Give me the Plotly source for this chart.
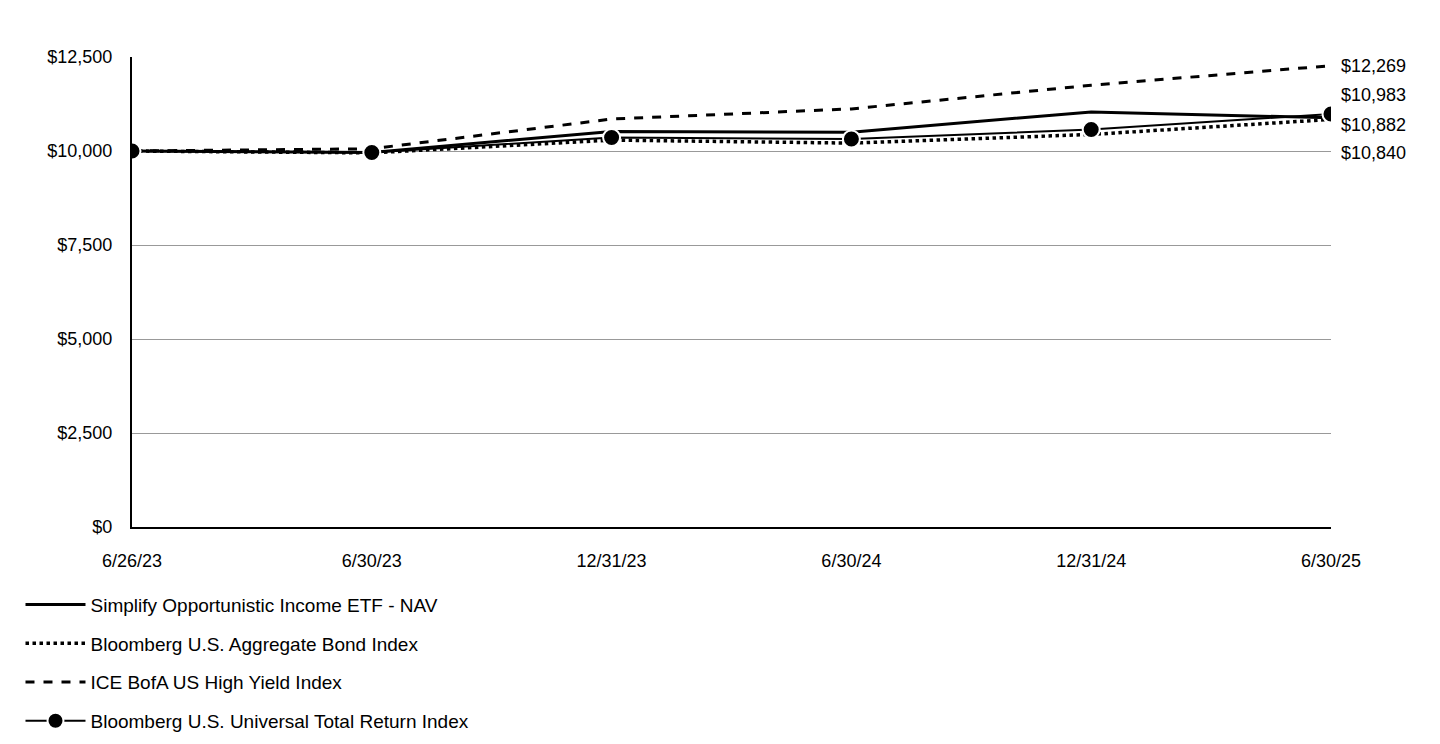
import plotly.graph_objects as go

dates = ["6/26/23", "6/30/23", "12/31/23", "6/30/24", "12/31/24", "6/30/25"]
nav = [10000, 9960, 10520, 10500, 11040, 10882]
agg = [10000, 9950, 10290, 10210, 10440, 10840]
hy = [10000, 10060, 10850, 11120, 11750, 12269]
univ = [10000, 9960, 10360, 10320, 10570, 10983]
end_labels = ["$12,269", "$10,983", "$10,882", "$10,840"]
end_label_y = [12269, 11480, 10700, 9940]

x = list(range(len(dates)))
fig = go.Figure()
fig.add_trace(go.Scatter(x=x, y=nav, mode="lines", name="Simplify Opportunistic Income ETF - NAV",
                         legendgroup="a", line=dict(color="black", width=3)))
fig.add_trace(go.Scatter(x=x, y=agg, mode="lines", name="Bloomberg U.S. Aggregate Bond Index",
                         legendgroup="b", line=dict(color="black", width=3.5, dash="dot")))
fig.add_trace(go.Scatter(x=x, y=hy, mode="lines", name="ICE BofA US High Yield Index",
                         legendgroup="c", line=dict(color="black", width=3, dash="dash")))
fig.add_trace(go.Scatter(x=x, y=univ, mode="lines+markers", name="Bloomberg U.S. Universal Total Return Index",
                         legendgroup="d", line=dict(color="black", width=2),
                         marker=dict(size=17, color="black", line=dict(color="white", width=2))))
for t, yv in zip(end_labels, end_label_y):
    fig.add_annotation(x=x[-1], y=yv, text=t, showarrow=False, xanchor="left", xshift=8,
                       font=dict(size=18, color="black"))

fig.update_layout(
    width=1440, height=744, plot_bgcolor="white", paper_bgcolor="white",
    font=dict(family="Liberation Sans, Arial", size=18, color="black"),
    margin=dict(l=121, r=117, t=49, b=223),
    showlegend=True,
    legend=dict(x=-0.093, y=-0.125, xanchor="left", yanchor="top", orientation="v",
                font=dict(size=19), itemwidth=60, tracegroupgap=11),
    xaxis=dict(tickmode="array", tickvals=x, ticktext=dates, range=[0, 5], showgrid=False,
               showline=True, linecolor="black", linewidth=2, ticks="", ticklen=0,
               ticklabelstandoff=16),
    yaxis=dict(range=[0, 12500], tickvals=[0, 2500, 5000, 7500, 10000, 12500],
               ticktext=["$0", "$2,500", "$5,000", "$7,500", "$10,000", "$12,500"],
               showgrid=True, gridcolor="#999999", gridwidth=1, showline=True,
               linecolor="black", linewidth=2, zeroline=False, ticks="", ticklabelstandoff=14),
)
fig.write_html("out.html")
